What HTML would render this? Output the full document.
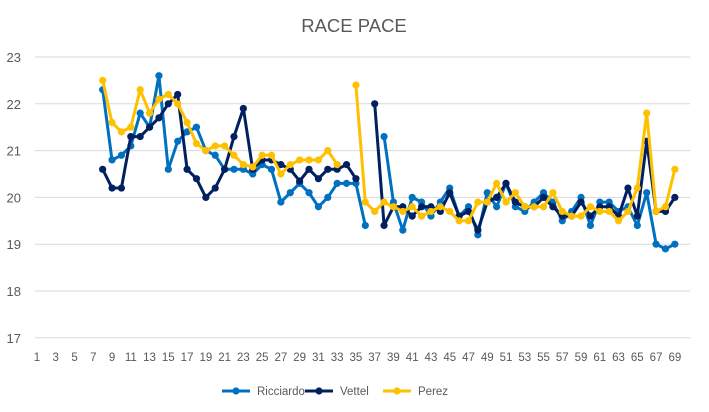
<!DOCTYPE html>
<html><head><meta charset="utf-8"><style>
body{margin:0;background:#fff;font-family:"Liberation Sans",sans-serif}
svg text{font-family:"Liberation Sans",sans-serif;fill:#595959}
</style></head><body>
<svg id="chart" width="709" height="407" viewBox="0 0 709 407" xmlns="http://www.w3.org/2000/svg">
<rect width="709" height="407" fill="#fff"/>
<text x="354" y="32" text-anchor="middle" font-size="18.5">RACE PACE</text>
<g id="grid"></g>
<g id="yticks"></g>
<g id="xticks"></g>
<g id="series"></g>
<g id="legend"></g>
</svg>
<script>
const laps = Array.from({length:69},(_,i)=>i+1);
const yTicks = [17,18,19,20,21,22,23];
const seriesNames = ["Ricciardo","Vettel","Perez"];
const seriesColors = ["#0070C0","#002060","#FFC000"];
const N = null;
const ricciardo = [N,N,N,N,N,N,N,22.3,20.8,20.9,21.1,21.8,21.5,22.6,20.6,21.2,21.4,21.5,21.0,20.9,20.6,20.6,20.6,20.5,20.7,20.6,19.9,20.1,20.3,20.1,19.8,20.0,20.3,20.3,20.3,19.4,N,21.3,19.9,19.3,20.0,19.9,19.6,19.9,20.2,19.6,19.8,19.2,20.1,19.8,20.3,19.8,19.7,19.9,20.1,19.9,19.5,19.7,20.0,19.4,19.9,19.9,19.7,19.8,19.4,20.1,19.0,18.9,19.0];
const vettel = [N,N,N,N,N,N,N,20.6,20.2,20.2,21.3,21.3,21.5,21.7,22.0,22.2,20.6,20.4,20.0,20.2,20.6,21.3,21.9,20.6,20.8,20.8,20.7,20.6,20.35,20.6,20.4,20.6,20.6,20.7,20.4,N,22.0,19.4,19.8,19.8,19.6,19.8,19.8,19.7,20.1,19.6,19.7,19.3,19.9,20.0,20.3,19.9,19.8,19.8,20.0,19.8,19.6,19.6,19.9,19.6,19.8,19.8,19.6,20.2,19.6,21.2,19.7,19.7,20.0];
const perez = [N,N,N,N,N,N,N,22.5,21.6,21.4,21.5,22.3,21.8,22.1,22.2,22.0,21.6,21.15,21.0,21.1,21.1,20.9,20.7,20.65,20.9,20.9,20.5,20.7,20.8,20.8,20.8,21.0,20.7,N,22.4,19.9,19.7,19.9,19.8,19.7,19.8,19.6,19.7,19.8,19.7,19.5,19.5,19.9,19.9,20.3,19.9,20.1,19.8,19.8,19.8,20.1,19.7,19.6,19.6,19.8,19.7,19.7,19.5,19.7,20.2,21.8,19.7,19.8,20.6];
const allSeries = [ricciardo, vettel, perez];

const NS="http://www.w3.org/2000/svg";
const X0=37, DX=9.38, Y23=57, PX=46.8, L=35, R=690;
function xs(lap){return X0+(lap-1)*DX;}
function ys(v){return Y23+(23-v)*PX;}
function mk(tag,attrs,parent){const e=document.createElementNS(NS,tag);for(const k in attrs)e.setAttribute(k,attrs[k]);parent.appendChild(e);return e;}
const grid=document.getElementById('grid'),yt=document.getElementById('yticks'),xt=document.getElementById('xticks'),sg=document.getElementById('series'),lg=document.getElementById('legend');
yTicks.forEach(t=>{
  const ln=mk('line',{x1:L,x2:R,y1:ys(t),y2:ys(t),stroke:'#d9d9d9','stroke-width':1},grid);
  
  
  const tx=mk('text',{x:21,y:ys(t)+5,'text-anchor':'end','font-size':13},yt);
  tx.textContent=t;
  
  
});
laps.forEach(l=>{
  if(l%2===1){
    const tx=mk('text',{x:xs(l),y:361,'text-anchor':'middle','font-size':11.5},xt);
    tx.textContent=l;
    
    
  }
});
allSeries.forEach((data,si)=>{
  const g=mk('g',{},sg);
  
  
  let d='',pen=false;
  data.forEach((v,i)=>{
    if(v===null){pen=false;return;}
    d+=(pen?'L':'M')+xs(laps[i]).toFixed(1)+' '+ys(v).toFixed(1)+' ';pen=true;
  });
  const p=mk('path',{d:d,fill:'none',stroke:seriesColors[si],'stroke-width':3,'stroke-linejoin':'round'},g);
  
  
  data.forEach((v,i)=>{
    if(v===null)return;
    const c=mk('circle',{cx:xs(laps[i]),cy:ys(v),r:3.6,fill:seriesColors[si]},g);
    
    
  });
});
const lx=[222,305,383];
seriesNames.forEach((n,i)=>{
  const g=mk('g',{},lg);
  
  
  mk('line',{x1:lx[i],x2:lx[i]+28,y1:391,y2:391,stroke:seriesColors[i],'stroke-width':3},g);
  mk('circle',{cx:lx[i]+14,cy:391,r:3.6,fill:seriesColors[i]},g);
  const t=mk('text',{x:lx[i]+35,y:395,'font-size':11.5},g);
  t.textContent=n;
});
</script>
</body></html>
